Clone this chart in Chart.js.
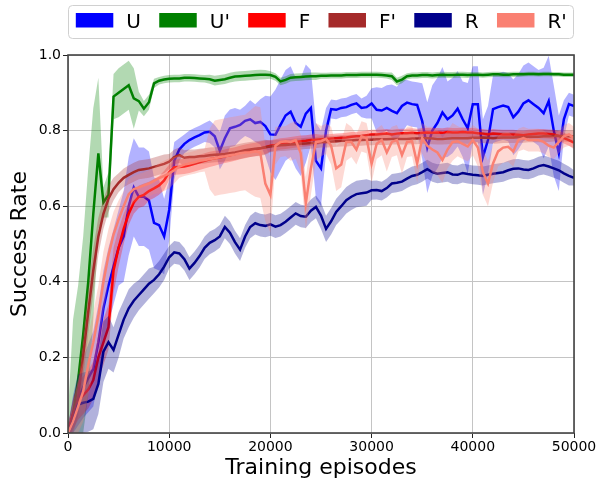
<!DOCTYPE html>
<html>
<head>
<meta charset="utf-8">
<script src="https://cdn.jsdelivr.net/npm/chart.js@4.4.0/dist/chart.umd.min.js"></script>
<style>
  html, body { margin: 0; padding: 0; background: #fff; }
</style>
</head>
<body>
<canvas id="chart" width="600" height="481"></canvas>
<script>
// training episodes sampled every 500
var episodes = Array.from({ length: 101 }, function (_, i) { return i * 500; });

var xTicks = [0, 10000, 20000, 30000, 40000, 50000];
var yTicks = [0, 0.2, 0.4, 0.6, 0.8, 1.0];

var names = ['U', "U'", 'F', "F'", 'R', "R'"];

// mean success rate
var uMean = [
  0.0, 0.05, 0.09, 0.12, 0.145, 0.17, 0.24, 0.33, 0.39, 0.44,
  0.49, 0.52, 0.60, 0.65, 0.625, 0.625, 0.615, 0.556, 0.55, 0.52,
  0.59, 0.72, 0.75, 0.765, 0.775, 0.782, 0.788, 0.795, 0.797, 0.785,
  0.747, 0.78, 0.806, 0.81, 0.815, 0.826, 0.83, 0.82, 0.823, 0.812,
  0.79, 0.789, 0.815, 0.84, 0.85, 0.82, 0.81, 0.845, 0.86, 0.72,
  0.70, 0.80, 0.857, 0.855, 0.86, 0.862, 0.868, 0.872, 0.86, 0.862,
  0.872, 0.855, 0.853, 0.86, 0.852, 0.846, 0.865, 0.874, 0.87, 0.868,
  0.825, 0.755, 0.80, 0.82, 0.848, 0.83, 0.84, 0.858, 0.83, 0.806,
  0.87, 0.87, 0.73, 0.775, 0.857, 0.862, 0.866, 0.862, 0.835, 0.85,
  0.872, 0.88, 0.87, 0.86, 0.846, 0.878, 0.80, 0.74, 0.83, 0.87,
  0.865
];
var upMean = [
  0.0, 0.05, 0.14, 0.26, 0.40, 0.58, 0.74, 0.61, 0.63, 0.89,
  0.90, 0.91, 0.92, 0.885, 0.878, 0.858, 0.875, 0.925, 0.932, 0.935,
  0.937, 0.938, 0.938, 0.94, 0.94, 0.939, 0.938, 0.937, 0.936, 0.932,
  0.934, 0.936, 0.94, 0.943, 0.944, 0.945, 0.946, 0.947, 0.948, 0.948,
  0.947, 0.942, 0.93, 0.934, 0.94, 0.941, 0.942, 0.943, 0.944, 0.944,
  0.945, 0.945, 0.946, 0.946, 0.946, 0.947, 0.947, 0.947, 0.948, 0.948,
  0.948, 0.948, 0.947, 0.946, 0.944, 0.93, 0.935, 0.944, 0.946, 0.946,
  0.947, 0.947, 0.946, 0.947, 0.948, 0.947, 0.947, 0.948, 0.948, 0.947,
  0.948, 0.948, 0.947, 0.948, 0.949, 0.949, 0.948, 0.948, 0.949, 0.949,
  0.949, 0.95, 0.95, 0.949, 0.95, 0.95, 0.949, 0.949, 0.948, 0.948,
  0.948
];
var fMean = [
  0.0, 0.05, 0.085, 0.10, 0.115, 0.14, 0.20, 0.24, 0.28, 0.43,
  0.49, 0.54, 0.58, 0.61, 0.625, 0.63, 0.64, 0.647, 0.655, 0.668,
  0.69, 0.703, 0.704, 0.705, 0.708, 0.712, 0.716, 0.72, 0.724, 0.727,
  0.729, 0.732, 0.735, 0.738, 0.742, 0.745, 0.748, 0.75, 0.753, 0.756,
  0.76, 0.762, 0.765, 0.766, 0.768, 0.77, 0.772, 0.773, 0.775, 0.776,
  0.777, 0.778, 0.779, 0.78, 0.781, 0.782, 0.784, 0.785, 0.786, 0.788,
  0.79, 0.79, 0.791, 0.792, 0.79, 0.792, 0.793, 0.793, 0.794, 0.793,
  0.794, 0.795, 0.794, 0.795, 0.794, 0.796, 0.795, 0.795, 0.796, 0.795,
  0.795, 0.793, 0.792, 0.79, 0.792, 0.791, 0.79, 0.79, 0.79, 0.789,
  0.788, 0.79, 0.791, 0.792, 0.792, 0.791, 0.79, 0.786, 0.78, 0.775,
  0.768
];
var fpMean = [
  0.0, 0.04, 0.095, 0.205, 0.32, 0.43, 0.52, 0.58, 0.62, 0.645,
  0.662, 0.675, 0.683, 0.69, 0.696, 0.698, 0.70, 0.704, 0.708, 0.712,
  0.718, 0.73, 0.735, 0.728, 0.73, 0.73, 0.732, 0.733, 0.735, 0.736,
  0.737, 0.738, 0.74, 0.742, 0.745, 0.748, 0.75, 0.752, 0.753, 0.756,
  0.758, 0.76, 0.761, 0.762, 0.763, 0.764, 0.765, 0.766, 0.767, 0.768,
  0.77, 0.77, 0.771, 0.772, 0.773, 0.773, 0.774, 0.775, 0.775, 0.776,
  0.776, 0.777, 0.777, 0.777, 0.778, 0.778, 0.778, 0.778, 0.779, 0.779,
  0.78, 0.78, 0.779, 0.778, 0.778, 0.779, 0.78, 0.78, 0.78, 0.78,
  0.781, 0.781, 0.782, 0.781, 0.78, 0.781, 0.782, 0.782, 0.782, 0.783,
  0.783, 0.784, 0.784, 0.784, 0.785, 0.785, 0.786, 0.786, 0.786, 0.785,
  0.785
];
var rMean = [
  0.0, 0.03, 0.075, 0.08, 0.083, 0.09, 0.13, 0.215, 0.24, 0.22,
  0.26, 0.30, 0.33, 0.35, 0.365, 0.38, 0.395, 0.405, 0.42, 0.44,
  0.465, 0.478, 0.475, 0.46, 0.435, 0.45, 0.468, 0.49, 0.503, 0.51,
  0.52, 0.545, 0.53, 0.505, 0.485, 0.52, 0.545, 0.555, 0.55, 0.548,
  0.552, 0.546, 0.55, 0.559, 0.57, 0.581, 0.574, 0.572, 0.588, 0.598,
  0.575, 0.54, 0.56, 0.585, 0.60, 0.616, 0.625, 0.632, 0.634, 0.636,
  0.642, 0.643, 0.64, 0.648, 0.66, 0.662, 0.665, 0.673, 0.68, 0.683,
  0.69, 0.698, 0.69, 0.686, 0.688, 0.69, 0.684, 0.683, 0.688, 0.685,
  0.683, 0.682, 0.68, 0.683, 0.686, 0.688, 0.69, 0.695, 0.699, 0.70,
  0.697, 0.696, 0.70, 0.706, 0.709, 0.705, 0.70, 0.695, 0.687, 0.68,
  0.675
];
var rpMean = [
  0.0, 0.03, 0.07, 0.11, 0.18, 0.24, 0.31, 0.40, 0.47, 0.525,
  0.565, 0.60, 0.632, 0.645, 0.65, 0.655, 0.66, 0.667, 0.674, 0.68,
  0.687, 0.695, 0.705, 0.71, 0.713, 0.716, 0.72, 0.722, 0.725, 0.727,
  0.73, 0.732, 0.735, 0.737, 0.74, 0.742, 0.743, 0.745, 0.742, 0.66,
  0.63, 0.76, 0.77, 0.772, 0.77, 0.775, 0.74, 0.608, 0.70, 0.77,
  0.772, 0.778, 0.76, 0.70, 0.71, 0.77, 0.77, 0.75, 0.785, 0.78,
  0.712, 0.765, 0.775, 0.742, 0.77, 0.775, 0.735, 0.77, 0.772, 0.713,
  0.78, 0.76, 0.75, 0.742, 0.722, 0.75, 0.77, 0.772, 0.765, 0.758,
  0.775, 0.755, 0.69, 0.66, 0.713, 0.745, 0.755, 0.757, 0.745, 0.775,
  0.78, 0.775, 0.775, 0.775, 0.77, 0.76, 0.755, 0.77, 0.785, 0.79,
  0.78
];

// half width of the shaded band (std)
var uSpread = [
  0.02, 0.05, 0.07, 0.08, 0.09, 0.1, 0.1, 0.1, 0.1, 0.1,
  0.1, 0.12, 0.13, 0.13, 0.13, 0.13, 0.13, 0.12, 0.12, 0.1,
  0.08, 0.05, 0.03, 0.025, 0.025, 0.025, 0.025, 0.025, 0.03, 0.03,
  0.05, 0.06, 0.05, 0.05, 0.04, 0.04, 0.05, 0.05, 0.06, 0.08,
  0.1, 0.12, 0.12, 0.12, 0.12, 0.12, 0.13, 0.13, 0.1, 0.1,
  0.1, 0.06, 0.025, 0.025, 0.025, 0.025, 0.025, 0.025, 0.025, 0.03,
  0.04, 0.06, 0.06, 0.06, 0.07, 0.07, 0.07, 0.06, 0.06, 0.06,
  0.1, 0.12, 0.12, 0.12, 0.12, 0.1, 0.1, 0.1, 0.1, 0.12,
  0.1, 0.1, 0.1, 0.09, 0.09, 0.09, 0.09, 0.09, 0.1, 0.1,
  0.1, 0.1, 0.1, 0.1, 0.12, 0.12, 0.12, 0.1, 0.05, 0.03,
  0.03
];
var upSpread = [
  0.05, 0.25, 0.25, 0.26, 0.3, 0.28, 0.2, 0.04, 0.06, 0.06,
  0.065, 0.065, 0.065, 0.08, 0.025, 0.02, 0.02, 0.012, 0.01, 0.01,
  0.01, 0.01, 0.01, 0.01, 0.01, 0.01, 0.01, 0.01, 0.012, 0.013,
  0.013, 0.013, 0.013, 0.013, 0.013, 0.013, 0.013, 0.013, 0.013, 0.012,
  0.01, 0.01, 0.01, 0.01, 0.01, 0.01, 0.01, 0.01, 0.01, 0.01,
  0.008, 0.008, 0.008, 0.008, 0.008, 0.008, 0.008, 0.008, 0.008, 0.008,
  0.008, 0.008, 0.008, 0.008, 0.01, 0.01, 0.01, 0.008, 0.008, 0.008,
  0.008, 0.008, 0.008, 0.008, 0.008, 0.008, 0.008, 0.008, 0.008, 0.008,
  0.007, 0.007, 0.007, 0.007, 0.007, 0.007, 0.007, 0.007, 0.007, 0.007,
  0.006, 0.006, 0.006, 0.006, 0.006, 0.006, 0.006, 0.006, 0.006, 0.006,
  0.006
];
var fSpread = [
  0.02, 0.04, 0.05, 0.05, 0.05, 0.05, 0.06, 0.06, 0.06, 0.06,
  0.05, 0.04, 0.03, 0.03, 0.03, 0.03, 0.025, 0.025, 0.025, 0.025,
  0.02, 0.02, 0.02, 0.02, 0.02, 0.02, 0.02, 0.02, 0.02, 0.02,
  0.018, 0.018, 0.018, 0.018, 0.018, 0.018, 0.018, 0.018, 0.018, 0.018,
  0.015, 0.015, 0.015, 0.015, 0.015, 0.015, 0.015, 0.015, 0.015, 0.015,
  0.012, 0.012, 0.012, 0.012, 0.012, 0.012, 0.012, 0.012, 0.012, 0.012,
  0.012, 0.012, 0.012, 0.012, 0.012, 0.012, 0.012, 0.012, 0.012, 0.012,
  0.012, 0.012, 0.012, 0.012, 0.012, 0.012, 0.012, 0.012, 0.012, 0.012,
  0.012, 0.012, 0.012, 0.012, 0.012, 0.012, 0.012, 0.012, 0.012, 0.012,
  0.012, 0.012, 0.012, 0.012, 0.012, 0.012, 0.012, 0.013, 0.014, 0.015,
  0.015
];
var fpSpread = [
  0.02, 0.04, 0.05, 0.06, 0.06, 0.06, 0.05, 0.04, 0.035, 0.03,
  0.025, 0.025, 0.025, 0.025, 0.025, 0.025, 0.025, 0.025, 0.025, 0.025,
  0.02, 0.02, 0.02, 0.02, 0.02, 0.02, 0.02, 0.02, 0.02, 0.02,
  0.02, 0.02, 0.02, 0.02, 0.02, 0.02, 0.02, 0.02, 0.02, 0.02,
  0.015, 0.015, 0.015, 0.015, 0.015, 0.015, 0.015, 0.015, 0.015, 0.015,
  0.015, 0.015, 0.015, 0.015, 0.015, 0.015, 0.015, 0.015, 0.015, 0.015,
  0.015, 0.015, 0.015, 0.015, 0.015, 0.015, 0.015, 0.015, 0.015, 0.015,
  0.015, 0.015, 0.015, 0.015, 0.015, 0.015, 0.015, 0.015, 0.015, 0.015,
  0.015, 0.015, 0.015, 0.015, 0.015, 0.015, 0.015, 0.015, 0.015, 0.015,
  0.015, 0.015, 0.015, 0.015, 0.015, 0.015, 0.015, 0.015, 0.015, 0.015,
  0.015
];
var rSpread = [
  0.02, 0.06, 0.08, 0.08, 0.08, 0.08, 0.08, 0.08, 0.07, 0.06,
  0.06, 0.05, 0.05, 0.045, 0.04, 0.04, 0.04, 0.035, 0.035, 0.035,
  0.03, 0.03, 0.03, 0.03, 0.03, 0.03, 0.03, 0.03, 0.03, 0.03,
  0.03, 0.03, 0.03, 0.03, 0.03, 0.03, 0.03, 0.03, 0.03, 0.03,
  0.03, 0.03, 0.03, 0.03, 0.03, 0.03, 0.03, 0.03, 0.03, 0.03,
  0.035, 0.035, 0.035, 0.035, 0.035, 0.035, 0.035, 0.035, 0.035, 0.035,
  0.025, 0.025, 0.025, 0.025, 0.025, 0.025, 0.025, 0.025, 0.025, 0.025,
  0.025, 0.025, 0.025, 0.025, 0.025, 0.025, 0.025, 0.025, 0.025, 0.025,
  0.025, 0.025, 0.025, 0.025, 0.025, 0.025, 0.025, 0.025, 0.025, 0.025,
  0.025, 0.025, 0.025, 0.025, 0.025, 0.025, 0.025, 0.025, 0.025, 0.025,
  0.02
];
var rpSpread = [
  0.02, 0.05, 0.07, 0.08, 0.08, 0.08, 0.08, 0.08, 0.07, 0.06,
  0.05, 0.04, 0.04, 0.035, 0.035, 0.035, 0.035, 0.035, 0.04, 0.04,
  0.04, 0.035, 0.03, 0.03, 0.03, 0.03, 0.03, 0.03, 0.08, 0.1,
  0.1, 0.1, 0.1, 0.1, 0.1, 0.1, 0.11, 0.12, 0.12, 0.1,
  0.1, 0.05, 0.04, 0.04, 0.05, 0.05, 0.05, 0.07, 0.07, 0.05,
  0.04, 0.04, 0.05, 0.06, 0.06, 0.05, 0.04, 0.04, 0.04, 0.04,
  0.05, 0.04, 0.04, 0.05, 0.04, 0.04, 0.05, 0.04, 0.04, 0.05,
  0.04, 0.05, 0.06, 0.06, 0.06, 0.05, 0.05, 0.04, 0.04, 0.04,
  0.04, 0.05, 0.06, 0.06, 0.05, 0.04, 0.04, 0.04, 0.04, 0.03,
  0.03, 0.03, 0.03, 0.03, 0.03, 0.03, 0.03, 0.03, 0.03, 0.03,
  0.03
];

var means = [uMean, upMean, fMean, fpMean, rMean, rpMean];
var spreads = [uSpread, upSpread, fSpread, fpSpread, rSpread, rpSpread];
var lineColors = ['#0000ff', '#008000', '#ff0000', '#a52a2a', '#00008b', '#fa8072'];
var bandColors = ['rgba(0,0,255,0.3)', 'rgba(0,128,0,0.3)', 'rgba(255,0,0,0.3)',
                  'rgba(165,42,42,0.3)', 'rgba(0,0,139,0.3)', 'rgba(250,128,114,0.3)'];

var FONT = '"DejaVu Sans", sans-serif';

function points(vals) {
  return episodes.map(function (e, i) { return { x: e, y: vals[i] }; });
}

var datasets = [];
for (var k = 0; k < names.length; k++) {
  var m = means[k], s = spreads[k];
  var lo = m.map(function (v, i) { return v - s[i]; });
  var hi = m.map(function (v, i) { return v + s[i]; });
  var base = (names.length - k) * 3;
  datasets.push({
    label: names[k] + ' lo', band: true, data: points(lo),
    borderWidth: 0, borderColor: 'transparent', pointRadius: 0, fill: false, order: base
  });
  datasets.push({
    label: names[k] + ' hi', band: true, data: points(hi),
    borderWidth: 0, borderColor: 'transparent', backgroundColor: bandColors[k],
    pointRadius: 0, fill: '-1', order: base - 1
  });
  datasets.push({
    label: names[k], data: points(m),
    borderColor: lineColors[k], backgroundColor: lineColors[k], borderWidth: 2.5,
    pointRadius: 0, fill: false, order: base - 2
  });
}

// box round the plot area and the legend on top
var framePlugin = {
  id: 'frame',
  afterDatasetsDraw: function (chart) {
    var a = chart.chartArea, ctx = chart.ctx;
    ctx.save();
    ctx.strokeStyle = '#444';
    ctx.lineWidth = 1.6;
    ctx.strokeRect(a.left, a.top, a.right - a.left, a.bottom - a.top);
    ctx.restore();
  },
  afterDraw: function (chart) {
    var ctx = chart.ctx;
    ctx.save();
    ctx.beginPath();
    ctx.roundRect(68.5, 5.5, 505, 33, 4);
    ctx.fillStyle = 'rgba(255,255,255,0.8)';
    ctx.fill();
    ctx.strokeStyle = '#d0d0d0';
    ctx.lineWidth = 1;
    ctx.stroke();
    ctx.font = '20px ' + FONT;
    ctx.textBaseline = 'alphabetic';
    var x = 75.8;
    chart.data.datasets.forEach(function (ds) {
      if (ds.band) return;
      ctx.fillStyle = ds.borderColor;
      ctx.fillRect(x, 13, 37.5, 14.5);
      x += 37.5 + 13;
      ctx.fillStyle = '#000';
      ctx.fillText(ds.label, x, 27.5);
      x += ctx.measureText(ds.label).width + 18.3;
    });
    ctx.restore();
  }
};

new Chart(document.getElementById('chart'), {
  type: 'line',
  data: { datasets: datasets },
  plugins: [framePlugin],
  options: {
    responsive: false,
    animation: false,
    devicePixelRatio: 1,
    layout: { padding: { left: 0, right: 26, top: 55, bottom: 0 } },
    elements: { line: { tension: 0 } },
    plugins: {
      legend: { display: false },
      tooltip: { enabled: false }
    },
    scales: {
      x: {
        type: 'linear', min: 0, max: 50000,
        afterFit: function (scale) { scale.height = 48; },
        afterBuildTicks: function (scale) {
          scale.ticks = xTicks.map(function (v) { return { value: v }; });
        },
        ticks: {
          callback: function (v) { return String(v); },
          font: { family: FONT, size: 14 }, color: '#000',
          padding: 1, maxRotation: 0, autoSkip: false
        },
        grid: { color: '#c4c4c4', lineWidth: 1, tickLength: 5, tickColor: '#222' },
        border: { display: false },
        title: {
          display: true, text: 'Training episodes', color: '#000',
          font: { family: FONT, size: 22 }, padding: { top: 0, bottom: 0 }
        }
      },
      y: {
        min: 0, max: 1,
        afterFit: function (scale) { scale.width = 68; },
        afterBuildTicks: function (scale) {
          scale.ticks = yTicks.map(function (v) { return { value: v }; });
        },
        ticks: {
          callback: function (v) { return v.toFixed(1); },
          font: { family: FONT, size: 14 }, color: '#000', padding: 2
        },
        grid: { color: '#c4c4c4', lineWidth: 1, tickLength: 5, tickColor: '#222' },
        border: { display: false },
        title: {
          display: true, text: 'Success Rate', color: '#000',
          font: { family: FONT, size: 22 }, padding: { top: 7, bottom: 0 }
        }
      }
    }
  }
});
</script>
</body>
</html>
